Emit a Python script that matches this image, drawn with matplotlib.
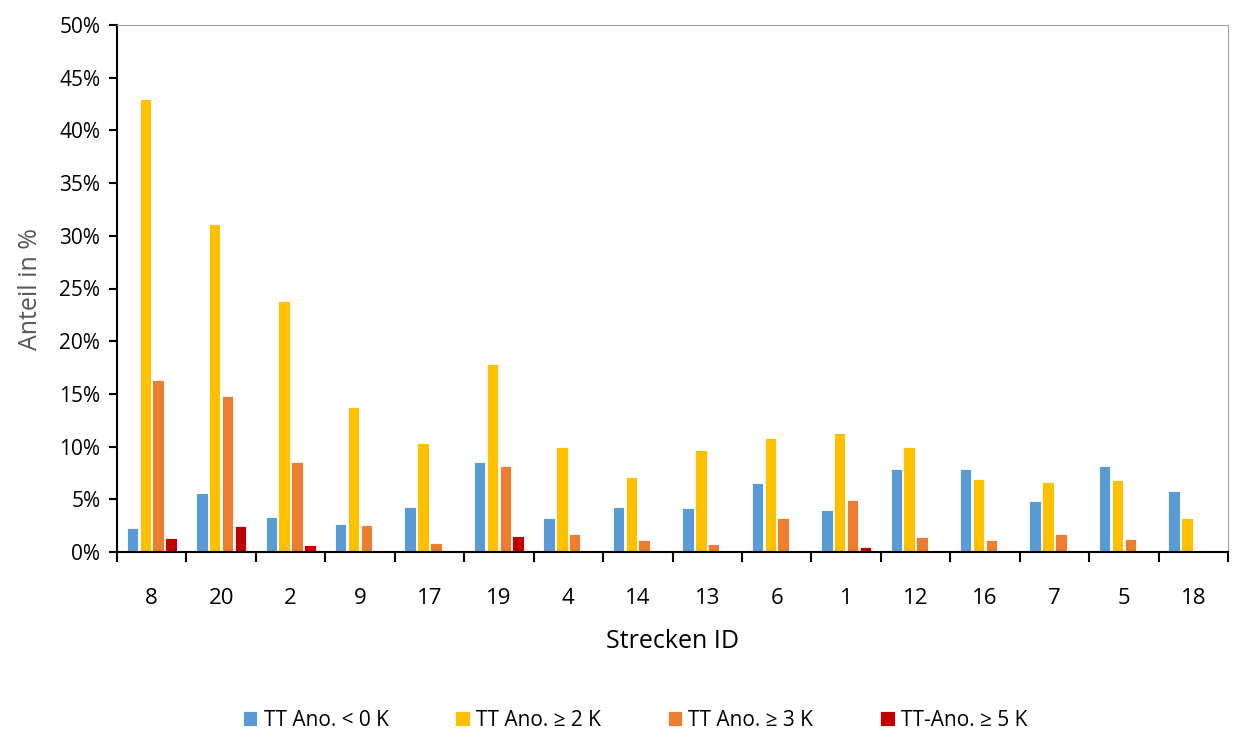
import numpy as np
import matplotlib.pyplot as plt
from matplotlib.ticker import PercentFormatter, FixedLocator, NullFormatter

strecken = ["8", "20", "2", "9", "17", "19", "4", "14", "13", "6", "1", "12", "16", "7", "5", "18"]

ano_lt0 = [2.3, 5.6, 3.3, 2.7, 4.3, 8.5, 3.2, 4.3, 4.2, 6.5, 4.0, 7.9, 7.9, 4.8, 8.2, 5.8]
ano_ge2 = [43.0, 31.1, 23.8, 13.8, 10.3, 17.8, 10.0, 7.1, 9.7, 10.8, 11.3, 10.0, 6.9, 6.6, 6.8, 3.2]
ano_ge3 = [16.3, 14.8, 8.5, 2.6, 0.9, 8.2, 1.7, 1.1, 0.8, 3.2, 4.9, 1.4, 1.1, 1.7, 1.2, 0.0]
ano_ge5 = [1.3, 2.5, 0.7, 0.0, 0.0, 1.5, 0.0, 0.0, 0.0, 0.0, 0.5, 0.0, 0.0, 0.0, 0.0, 0.0]

labels = ["TT Ano. < 0 K", "TT Ano. \u2265 2 K", "TT Ano. \u2265 3 K", "TT-Ano. \u2265 5 K"]
colors = ["#5b9bd5", "#ffc000", "#ed7d31", "#c00000"]

plt.rcParams["font.family"] = ["Open Sans", "DejaVu Sans"]

fig = plt.figure(figsize=(12.33, 7.31), dpi=100)
ax = fig.add_axes([117 / 1233, 1 - 552 / 731, 1111 / 1233, 527 / 731])

x = np.arange(len(strecken))
width = 0.165
step = 0.185
series = [ano_lt0, ano_ge2, ano_ge3, ano_ge5]
for i, (vals, lab, col) in enumerate(zip(series, labels, colors)):
    ax.bar(x + (i - 1.5) * step, vals, width, color=col, label=lab,
           edgecolor="white", linewidth=0.6)

ax.set_xlim(-0.5, len(strecken) - 0.5)
ax.set_ylim(0, 50)
ax.set_yticks(np.arange(0, 51, 5))
ax.yaxis.set_major_formatter(PercentFormatter(decimals=0))

ax.set_xticks(x)
ax.set_xticklabels(strecken)
ax.xaxis.set_minor_locator(FixedLocator(np.arange(-0.5, len(strecken), 1)))
ax.xaxis.set_minor_formatter(NullFormatter())
ax.tick_params(axis="x", which="major", length=0, pad=26, labelsize=16)
ax.tick_params(axis="x", which="minor", length=7, width=1.5, direction="out")
ax.tick_params(axis="y", length=6, width=1.5, direction="out", labelsize=15, pad=6)

ax.spines["left"].set_linewidth(1.5)
ax.spines["bottom"].set_linewidth(1.5)
ax.spines["top"].set_color("#a0a0a0")
ax.spines["right"].set_color("#a0a0a0")
ax.spines["top"].set_linewidth(0.8)
ax.spines["right"].set_linewidth(0.8)

ax.set_xlabel("Strecken ID", fontsize=18, labelpad=14)
ax.set_ylabel("Anteil in %", fontsize=18, color="#595959", labelpad=12)

fig.legend(loc="center", bbox_to_anchor=(0.515, 1 - 720 / 731), ncol=4, frameon=False,
           fontsize=15, handlelength=0.7, handleheight=0.7, handletextpad=0.3,
           columnspacing=3.2)

fig.savefig("out.png", dpi=100)
